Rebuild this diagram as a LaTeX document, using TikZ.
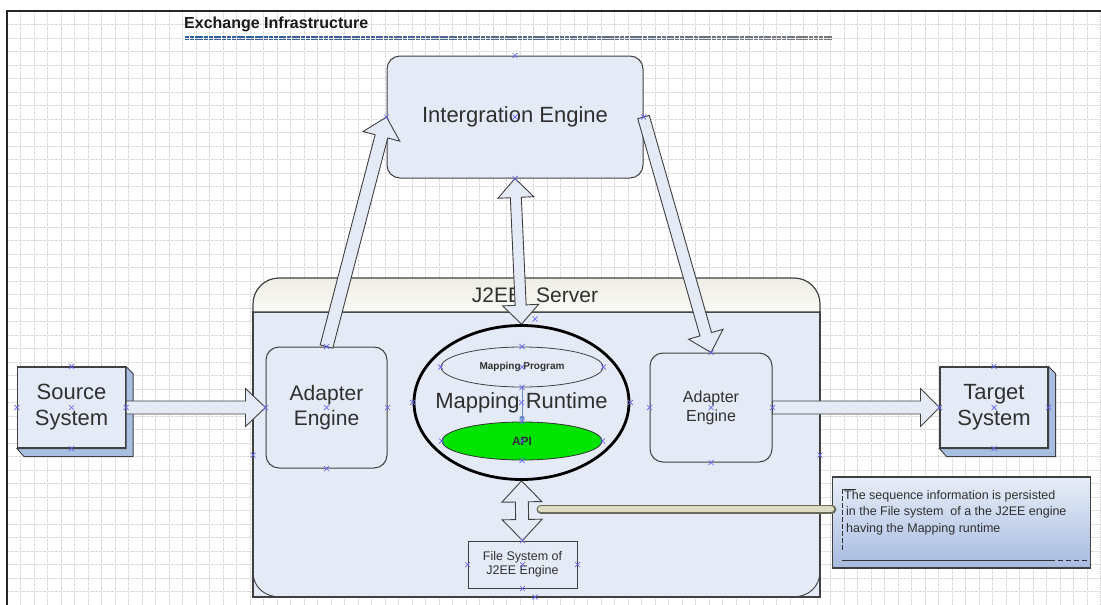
\documentclass[tikz,border=0pt]{standalone}
\usepackage{fontspec}
\setmainfont{Liberation Sans}
\usetikzlibrary{calc,shapes.geometric}
\definecolor{boxfill}{HTML}{E4EAF6}
\definecolor{boxline}{HTML}{404040}
\definecolor{shadowblue}{HTML}{A9BFE2}
\definecolor{hdrtop}{HTML}{EEEEE4}
\definecolor{hdrbot}{HTML}{FAFAF6}
\definecolor{apigreen}{HTML}{00E400}
\definecolor{markblue}{HTML}{6464F0}
\definecolor{txt}{HTML}{303030}
\definecolor{khaki}{HTML}{DCDCC4}
\definecolor{khakiline}{HTML}{6A6A58}
\definecolor{calltop}{HTML}{E8EEF8}
\definecolor{callbot}{HTML}{A6BAE0}
\definecolor{ulblue}{HTML}{2F5C9A}
\definecolor{ulgray}{HTML}{7A7A7A}
\definecolor{steel}{HTML}{6C8EC8}
\newcommand\blockarrow[5]{%
  \coordinate (bahb) at ($(#2)!#4!(#1)$);
  \draw[barrow] ($(#1)!#3!90:(#2)$) -- ($(bahb)!#3!90:(#2)$) -- ($(bahb)!#5!90:(#2)$) -- (#2)
     -- ($(bahb)!#5!-90:(#2)$) -- ($(bahb)!#3!-90:(#2)$) -- ($(#1)!#3!-90:(#2)$) -- cycle;}
\newcommand\dblarrow[5]{%
  \coordinate (daha) at ($(#1)!#4!(#2)$);
  \coordinate (dahb) at ($(#2)!#4!(#1)$);
  \draw[barrow] (#1) -- ($(daha)!#5!90:(#2)$) -- ($(daha)!#3!90:(#2)$) -- ($(dahb)!#3!90:(#2)$)
     -- ($(dahb)!#5!90:(#2)$) -- (#2) -- ($(dahb)!#5!-90:(#2)$) -- ($(dahb)!#3!-90:(#2)$)
     -- ($(daha)!#3!-90:(#2)$) -- ($(daha)!#5!-90:(#2)$) -- cycle;}
\newcommand\hmark[1]{%
  \draw[handle] ($(#1)+(-2.5,-2.5)$) -- ($(#1)+(2.5,2.5)$) ($(#1)+(-2.5,2.5)$) -- ($(#1)+(2.5,-2.5)$);}
\begin{document}
\begin{tikzpicture}[x=1pt,y=-1pt,
  gridline/.style={gray!30,line width=0.45pt,dash pattern=on 2.5pt off 1.5pt},
  rbox/.style={draw=boxline,fill=boxfill,line width=1pt,rounded corners=13pt,inner sep=0pt,align=center,text=txt},
  sbox/.style={draw=boxline,fill=boxfill,line width=1.1pt,inner sep=0pt,align=center,text=txt},
  barrow/.style={draw=boxline,fill=boxfill,line width=0.9pt,line join=miter},
  handle/.style={markblue,line width=0.7pt},
  ell/.style={ellipse,draw=boxline,fill=boxfill,inner sep=0pt,line width=0.8pt,text=txt}]
\useasboundingbox (0,0) rectangle (1101,605);
\fill[white] (0,0) rectangle (1101,605);
% grid
\foreach \gx in {7,20.5,...,1101} \draw[gridline] (\gx,11) -- (\gx,605);
\foreach \gy in {11,24.5,...,605} \draw[gridline] (7,\gy) -- (1101,\gy);
\draw[black!85,line width=1.3pt] (7,605) -- (7,11) -- (1101,11);
% title
\node[anchor=west,font=\bfseries\fontsize{16}{19}\selectfont,text=black!90,inner sep=0pt] (title) at (184,24) {Exchange Infrastructure};
\foreach \i in {0,...,19}{
  \pgfmathsetmacro\pc{100-5*\i}
  \draw[ulblue!\pc!ulgray,line width=2pt,dash pattern=on 4pt off 0.8pt] ({185+\i*32.35},36.5) -- ++(32.35,0);
  \draw[ulblue!\pc!ulgray,line width=1.6pt,dash pattern=on 4pt off 0.8pt] ({185+\i*32.35},39.5) -- ++(32.35,0);
}
% J2EE server container
\draw[fill=boxfill,draw=boxline,line width=1.2pt] (253,312) rectangle (820,597);
\draw[top color=hdrtop,bottom color=hdrbot,draw=boxline,line width=1.2pt]
  (253,312) [rounded corners=26pt] -- (253,278) -- (820,278) [sharp corners] -- (820,312) -- cycle;
\draw[boxline,line width=0.9pt] (253,571) .. controls (253,588) and (265,597) .. (281,597);
\draw[boxline,line width=0.9pt] (820,570) .. controls (820,588) and (808,597) .. (792,597);
\node[font=\fontsize{21}{25}\selectfont,text=txt] (j2ee) at (535,295) {J2EE\hspace{14pt}Server};
% nodes
\node[rbox,minimum width=256,minimum height=122,font=\fontsize{22}{26}\selectfont] (ie) at (515,117) {Intergration Engine};
\node[rbox,minimum width=121,minimum height=121,font=\fontsize{21}{25}\selectfont] (ae1) at (326.5,407.5) {Adapter\\Engine};
\node[rbox,minimum width=122,minimum height=109,font=\fontsize{16}{19}\selectfont] (ae2) at (711,407.5) {Adapter\\Engine};
\node[sbox,minimum width=108,minimum height=81,font=\fontsize{22}{26}\selectfont] (src) at (71.5,407.5) {Source\\System};
\draw[fill=shadowblue,draw=boxline,line width=0.9pt] (src.north east) -- ($(src.north east)+(7,7)$) -- ($(src.south east)+(7,8)$) -- ($(src.south west)+(7,8)$) -- (src.south west) -- (src.south east) -- cycle;
\node[sbox,minimum width=108,minimum height=81,font=\fontsize{22}{26}\selectfont] (tgt) at (994,407.5) {Target\\System};
\draw[fill=shadowblue,draw=boxline,line width=0.9pt] (tgt.north east) -- ($(tgt.north east)+(7,7)$) -- ($(tgt.south east)+(7,8)$) -- ($(tgt.south west)+(7,8)$) -- (tgt.south west) -- (tgt.south east) -- cycle;
\node[ell,draw=black,line width=2.8pt,minimum width=215,minimum height=154] (mr) at (521.5,402.5) {};
\node[text=txt,inner sep=0pt,font=\fontsize{22}{26}\selectfont] (mrtext) at (521.5,402.5) {Mapping Runtime};
\node[ell,minimum width=162,minimum height=40,font=\bfseries\fontsize{10}{12}\selectfont] (mp) at (522,367) {Mapping Program};
\node[ell,fill=apigreen,draw=black!80,minimum width=160,minimum height=38,font=\bfseries\fontsize{12}{14}\selectfont] (api) at (522,441) {API};
\draw[steel,line width=1pt] (mp.south) -- (api.north);
\fill[steel] ($(api.north)+(0,-4)$) ellipse (2.5 and 1.8);
\node[draw=boxline,fill=boxfill,line width=1pt,minimum width=109,minimum height=47,inner sep=0pt,align=center,text=txt,font=\fontsize{12.5}{14.5}\selectfont] (fs) at (522.5,564.5) {File System of\\J2EE Engine};
% block arrows
\blockarrow{src.east}{ae1.west}{6.5pt}{20pt}{19pt}
\blockarrow{ae2.east}{tgt.west}{6.5pt}{19pt}{19pt}
\blockarrow{ae1.north}{ie.west}{6.5pt}{20pt}{19pt}
\blockarrow{ie.east}{ae2.north}{6pt}{19pt}{18pt}
\dblarrow{ie.south}{mr.north}{5.5pt}{19pt}{18pt}
\dblarrow{mr.south}{fs.north}{6.5pt}{21pt}{20pt}
% callout
\node[draw=boxline,line width=1.2pt,top color=calltop,bottom color=callbot,minimum width=258,minimum height=91,inner sep=0pt] (note) at (961.5,522.5) {};
\node[anchor=north west,align=left,inner sep=0pt,text=txt,font=\fontsize{12.5}{16.5}\selectfont] (notetext) at (844,490) {The sequence information is persisted\\\hspace{2pt}in the File system\ \ of a the J2EE engine\\\hspace{2pt}having the Mapping runtime};
\draw[black!80,line width=0.9pt] (842,489) -- (856,489);
\draw[black!80,line width=0.9pt,dash pattern=on 5pt off 2pt] (842,489) -- (842,552);
\draw[black!80,line width=0.9pt] (842,560) -- (1055,560);
\draw[black!80,line width=0.9pt,dash pattern=on 5pt off 3pt] (1058,560) -- (1087,560);
\coordinate (tail) at (541,509);
\draw[khakiline,line width=9pt,line cap=round] (note.west |- tail) -- (tail);
\draw[khaki,line width=6.5pt,line cap=round] ($(note.west |- tail)+(-1,0)$) -- (tail);
% selection handles
\foreach \n in {ie,ae1,ae2,src,tgt,mp,api,fs}{
  \hmark{\n.north}\hmark{\n.south}\hmark{\n.east}\hmark{\n.west}\hmark{\n.center}}
\hmark{mr.west}\hmark{mr.east}\hmark{mr.center}
\coordinate (h1) at (253,455); \coordinate (h2) at (820,455);
\coordinate (h3) at (535,319); \coordinate (h4) at (535,597);
\hmark{h1}\hmark{h2}\hmark{h3}\hmark{h4}
\end{tikzpicture}
\end{document}
